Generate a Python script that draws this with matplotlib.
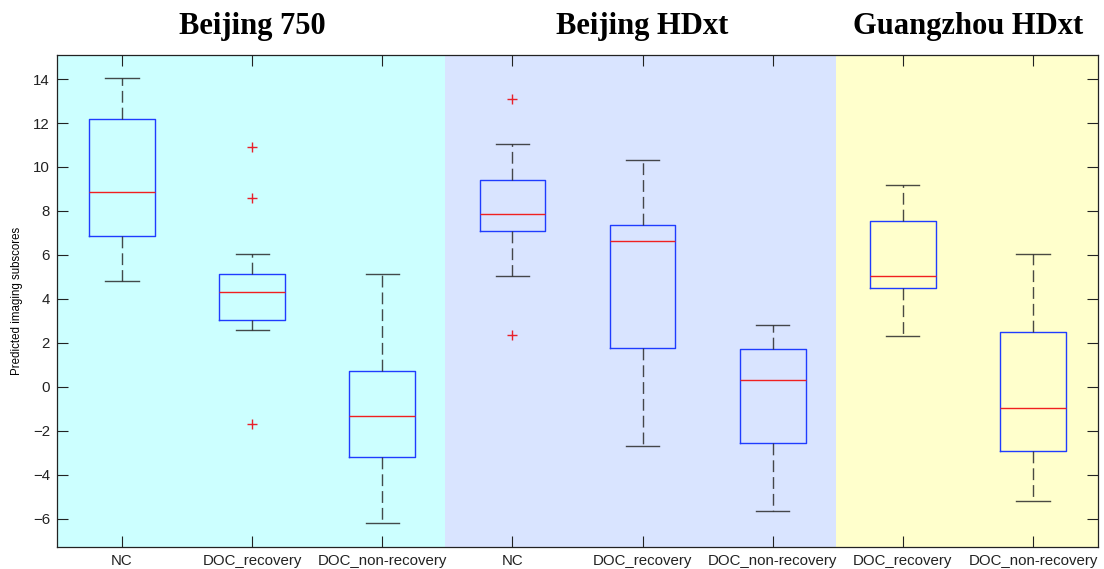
import matplotlib
matplotlib.use("Agg")
import matplotlib.pyplot as plt
import matplotlib.transforms as mtransforms

# Groups (scanner sites) and the categories within each
site_names = ["Beijing 750", "Beijing HDxt", "Guangzhou HDxt"]
site_sizes = [3, 3, 2]
categories = ["NC", "DOC_recovery", "DOC_non-recovery",
              "NC", "DOC_recovery", "DOC_non-recovery",
              "DOC_recovery", "DOC_non-recovery"]

# Box statistics per category
whisker_low = [4.82, 2.59, -6.21, 5.05, -2.71, -5.65, 2.33, -5.21]
q1 = [6.88, 3.05, -3.17, 7.09, 1.77, -2.56, 4.50, -2.92]
median = [8.86, 4.32, -1.33, 7.86, 6.65, 0.32, 5.05, -0.94]
q3 = [12.18, 5.15, 0.71, 9.42, 7.36, 1.71, 7.53, 2.49]
whisker_high = [14.06, 6.03, 5.15, 11.03, 10.30, 2.83, 9.20, 6.05]
outliers = [[], [10.92, 8.58, -1.71], [], [13.08, 2.38], [], [], [], []]

site_colors = ["#CCFFFF", "#D9E4FF", "#FFFFCC"]
yticks = [-6, -4, -2, 0, 2, 4, 6, 8, 10, 12, 14]

plt.rcParams["font.family"] = ["Liberation Sans", "DejaVu Sans"]
plt.rcParams["lines.scale_dashes"] = False

fig = plt.figure(figsize=(11.04, 5.69), dpi=100)
ax = fig.add_axes([0.0516, 0.0392, 0.9430, 0.8636])

positions = list(range(1, len(categories) + 1))

# shaded background per site, adjacent bands
edges = [0.5]
for n in site_sizes:
    edges.append(edges[-1] + n)
shift = [0.0, -0.02, -0.015, 0.0]
for k, col in enumerate(site_colors):
    ax.axvspan(edges[k] + shift[k], edges[k + 1] + shift[k + 1],
               color=col, zorder=0, lw=0)

stats = []
for i in range(len(categories)):
    stats.append(dict(med=median[i], q1=q1[i], q3=q3[i],
                      whislo=whisker_low[i], whishi=whisker_high[i],
                      fliers=outliers[i], label=categories[i]))

ax.bxp(stats, positions=positions, widths=0.505, capwidths=0.255,
       showfliers=True, patch_artist=False,
       boxprops=dict(color="#1f3cff", lw=1.0),
       medianprops=dict(color="#F02020", lw=1.0),
       whiskerprops=dict(color="#2a2a2a", lw=1.0, alpha=0.85,
                         linestyle=(0, (8.5, 3.6))),
       capprops=dict(color="#2a2a2a", lw=1.0, alpha=0.85),
       flierprops=dict(marker="+", markeredgecolor="#E8202A", markersize=7,
                       markeredgewidth=1.0, linestyle="none"))

ax.set_xlim(0.5, len(categories) + 0.5)
ax.set_ylim(-7.27, 15.08)
ax.set_yticks(yticks)
ax.set_xticks(positions)
ax.set_xticklabels(categories)
ax.tick_params(axis="both", which="both", direction="in", length=8,
               width=0.8, color="#222222", labelsize=10.8,
               top=True, right=True, labelcolor="#222222", pad=5)
for s in ax.spines.values():
    s.set_color("#222222")
    s.set_linewidth(0.9)

ax.set_ylabel("Predicted imaging subscores", fontsize=8.3, labelpad=7)

# site headings centred over each group
trans = mtransforms.blended_transform_factory(ax.transData, fig.transFigure)
for k, (name, n) in enumerate(zip(site_names, site_sizes)):
    centre = edges[k] + n / 2
    if n == 2:
        centre = edges[k] + 1.0
    ax.text(centre, 0.953, name, transform=trans, ha="center", va="center",
            fontsize=22, fontweight="bold", family=["Liberation Serif"])

fig.savefig("out.png", dpi=100)
